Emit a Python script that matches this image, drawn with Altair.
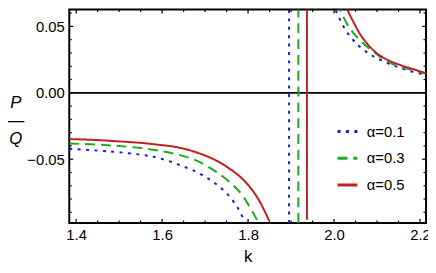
import altair as alt
import pandas as pd

# ---- data ----
series_names = ["α=0.1", "α=0.3", "α=0.5"]
series_colors = ["#1a1ad6", "#1faa1f", "#c41e1e"]

blue_left_k = [1.384, 1.45, 1.5, 1.55, 1.591, 1.637, 1.683, 1.721, 1.752, 1.775, 1.791, 1.795]
blue_left_v = [-0.0422, -0.0435, -0.0448, -0.0466, -0.0490, -0.0539, -0.0601, -0.0676, -0.0763, -0.0862, -0.0961, -0.098]
blue_pole = 1.8954
blue_pole_v = [-0.098, 0.0679]
blue_right_k = [1.996, 2.012, 2.031, 2.058, 2.089, 2.120, 2.150, 2.181, 2.214]
blue_right_v = [0.0679, 0.0564, 0.0452, 0.0353, 0.0279, 0.0229, 0.0192, 0.0160, 0.0136]

green_left_k = [1.384, 1.45, 1.5, 1.55, 1.591, 1.637, 1.683, 1.729, 1.767, 1.790, 1.813, 1.824]
green_left_v = [-0.0382, -0.0390, -0.0401, -0.0415, -0.0435, -0.0465, -0.0515, -0.0601, -0.0701, -0.0787, -0.0911, -0.098]
green_pole = 1.917
green_pole_v = [-0.098, 0.0679]
green_right_k = [2.006, 2.031, 2.058, 2.089, 2.120, 2.150, 2.181, 2.214]
green_right_v = [0.0679, 0.0515, 0.0403, 0.0316, 0.0242, 0.0199, 0.0173, 0.0145]

red_left_k = [1.384, 1.45, 1.5, 1.55, 1.591, 1.637, 1.683, 1.729, 1.775, 1.805, 1.828, 1.849]
red_left_v = [-0.0348, -0.0356, -0.0366, -0.0377, -0.0391, -0.0411, -0.0452, -0.0515, -0.0614, -0.0713, -0.0824, -0.0963]
red_pole = 1.937
red_pole_v = [-0.0956, 0.0651]
red_right_k = [2.027, 2.044, 2.066, 2.097, 2.128, 2.158, 2.189, 2.214]
red_right_v = [0.0651, 0.0540, 0.0415, 0.0304, 0.0242, 0.0205, 0.0173, 0.0147]

x_labels = [1.4, 1.6, 1.8, 2.0, 2.2]
x_minor = [1.45, 1.5, 1.55, 1.65, 1.7, 1.75, 1.85, 1.9, 1.95, 2.05, 2.1, 2.15]
y_labels = [-0.05, 0.0, 0.05]
y_minor = [-0.09, -0.08, -0.07, -0.06, -0.04, -0.03, -0.02, -0.01, 0.01, 0.02, 0.03, 0.04, 0.06]

x_domain = [1.384, 2.214]
y_domain = [-0.098, 0.0627]

y_title_lines = ["P", "—", "Q"]

W, H = 361, 216

rows = []
def add(name, seg, ks, vs):
    for i, (k, v) in enumerate(zip(ks, vs)):
        rows.append({"series": name, "seg": name + seg, "k": k, "v": v, "i": i})

for name, lk, lv, pk, pv, rk, rv in [
    (series_names[0], blue_left_k, blue_left_v, blue_pole, blue_pole_v, blue_right_k, blue_right_v),
    (series_names[1], green_left_k, green_left_v, green_pole, green_pole_v, green_right_k, green_right_v),
    (series_names[2], red_left_k, red_left_v, red_pole, red_pole_v, red_right_k, red_right_v),
]:
    add(name, "L", lk, lv)
    add(name, "P", [pk, pk], pv)
    add(name, "R", rk, rv)

df = pd.DataFrame(rows)

xs = alt.Scale(domain=x_domain, nice=False, zero=False)
ys = alt.Scale(domain=y_domain, nice=False, zero=False)

curves = alt.Chart(df).mark_line(strokeWidth=2, clip=True, interpolate="cardinal").encode(
    x=alt.X("k:Q", scale=xs, axis=alt.Axis(
        values=x_labels, format=".1f", ticks=False, domain=False, grid=False,
        labelFont="Liberation Sans", labelFontSize=15, labelColor="black",
        labelPadding=5, title="k", titleFont="Liberation Sans", titleFontSize=17,
        titleFontWeight="normal", titleColor="black", titleBaseline="alphabetic",
        titleY=39)),
    y=alt.Y("v:Q", scale=ys, axis=alt.Axis(
        values=y_labels, format=".2f", ticks=False, domain=False, grid=False,
        labelFont="Liberation Sans", labelFontSize=15, labelColor="black",
        labelPadding=5, title=None)),
    color=alt.Color("series:N", scale=alt.Scale(domain=series_names, range=series_colors),
                    legend=alt.Legend(
                        title=None, orient="none", legendX=270, legendY=112,
                        symbolType="stroke", symbolSize=400, symbolStrokeWidth=3,
                        labelFont="Liberation Sans", labelFontSize=15,
                        labelColor="black", labelOffset=8, rowPadding=7,
                        padding=0)),
    strokeDash=alt.StrokeDash("series:N", scale=alt.Scale(
        domain=series_names, range=[[3, 5.5], [10, 6], [1, 0]]), legend=None),
    detail="seg:N",
    order="i:Q",
)

y_title = alt.Chart(pd.DataFrame({"t": [0]})).mark_text(
    font="Liberation Sans", fontSize=17, fontStyle="italic", color="black",
    align="center", baseline="middle", lineHeight=18,
).encode(x=alt.value(-54), y=alt.value(95), text=alt.value(y_title_lines))

zero_df = pd.DataFrame({"v": [0.0]})
zero_line = alt.Chart(zero_df).mark_rule(color="black", strokeWidth=1.8).encode(
    y=alt.Y("v:Q", scale=ys), x=alt.value(0), x2=alt.value(W))

def xticks(vals, length):
    d = pd.DataFrame({"k": vals})
    bot = alt.Chart(d).mark_rule(color="black", strokeWidth=1.2).encode(
        x=alt.X("k:Q", scale=xs), y=alt.value(H), y2=alt.value(H - length))
    top = alt.Chart(d).mark_rule(color="black", strokeWidth=1.2).encode(
        x=alt.X("k:Q", scale=xs), y=alt.value(0), y2=alt.value(length))
    return [bot, top]

def yticks(vals, length):
    d = pd.DataFrame({"v": vals})
    left = alt.Chart(d).mark_rule(color="black", strokeWidth=1.2).encode(
        y=alt.Y("v:Q", scale=ys), x=alt.value(0), x2=alt.value(length))
    right = alt.Chart(d).mark_rule(color="black", strokeWidth=1.2).encode(
        y=alt.Y("v:Q", scale=ys), x=alt.value(W), x2=alt.value(W - length))
    return [left, right]

layers = [zero_line, curves, y_title] + xticks(x_labels, 4) + xticks(x_minor, 2.5) \
    + yticks(y_labels, 4) + yticks(y_minor, 2.5)

chart = alt.layer(*layers).properties(
    width=W, height=H,
    autosize=alt.AutoSizeParams(type="none"),
    padding={"left": 62, "top": 0, "right": 2, "bottom": 41},
).configure_view(stroke="black", strokeWidth=2)

chart.save("out.html", embed_options={"renderer": "svg", "actions": False})
